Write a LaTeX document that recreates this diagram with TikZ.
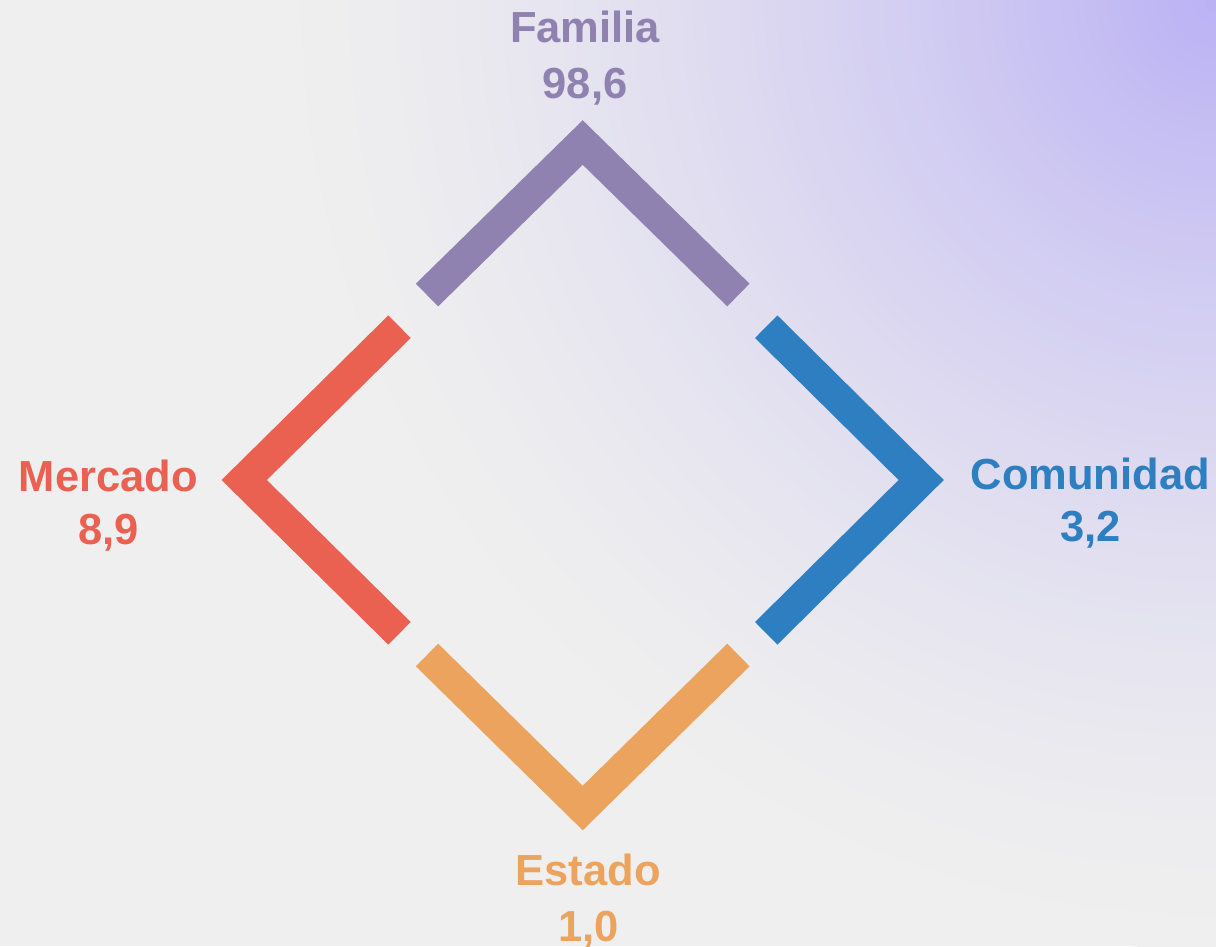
\documentclass[tikz,border=0pt]{standalone}
\usepackage{fontspec}
\setmainfont{Liberation Sans}
\definecolor{bgc}{HTML}{EFEFEF}
\definecolor{glow0}{HTML}{BBB2F4}
\definecolor{famc}{HTML}{8F81B0}
\definecolor{merc}{HTML}{EA6051}
\definecolor{comc}{HTML}{2E7FC1}
\definecolor{estc}{HTML}{ECA35E}
\tikzset{
  chevron/.style={line width=31.8pt, line join=miter, line cap=butt},
  lbl/.style={font=\fontsize{43.5}{50}\selectfont\bfseries, anchor=base, inner sep=0pt}
}
\begin{document}
\begin{tikzpicture}[x=1pt,y=-1pt]
\useasboundingbox (0,0) rectangle (1216,946);
\fill[bgc] (0,0) rectangle (1216,946);
\begin{scope}
\clip (0,0) rectangle (1216,946);
\foreach \i in {0,...,79}{
  \pgfmathsetmacro\rr{950*(1-\i/80)}
  \pgfmathsetmacro\tt{1-(\rr-6)/950}
  \pgfmathsetmacro\tt{min(1,max(0,\tt))}
  \pgfmathsetmacro\pp{100*\tt*sqrt(\tt)}
  \fill[glow0!\pp!bgc] (1216,0) circle (\rr);
}
\end{scope}
% chevron coordinates
\coordinate (fA) at (582.7,142.5);
\coordinate (fL) at (427,295);
\coordinate (fR) at (738.4,295);
\coordinate (eA) at (582.7,808);
\coordinate (eL) at (427,655);
\coordinate (eR) at (738.4,655);
\coordinate (mA) at (244.2,480);
\coordinate (mT) at (399.5,326.7);
\coordinate (mB) at (399.5,633.3);
\coordinate (cA) at (921.2,480);
\coordinate (cT) at (766.2,326.7);
\coordinate (cB) at (766.2,633.3);
\draw[chevron, famc] (fL) -- (fA) -- (fR);
\draw[chevron, estc] (eL) -- (eA) -- (eR);
\draw[chevron, merc] (mT) -- (mA) -- (mB);
\draw[chevron, comc] (cT) -- (cA) -- (cB);
% labels
\node[lbl, famc] (fam) at (585,42.7) {Familia};
\node[lbl, famc] (famv) at (585,98.3) {98,6};
\node[lbl, merc] (mer) at (108.3,491.7) {Mercado};
\node[lbl, merc] (merv) at (108.3,544) {8,9};
\node[lbl, comc] (com) at (1090.3,489.3) {Comunidad};
\node[lbl, comc] (comv) at (1090.3,541.7) {3,2};
\node[lbl, estc] (est) at (588.3,885) {Estado};
\node[lbl, estc] (estv) at (588.3,941) {1,0};
\end{tikzpicture}
\end{document}
